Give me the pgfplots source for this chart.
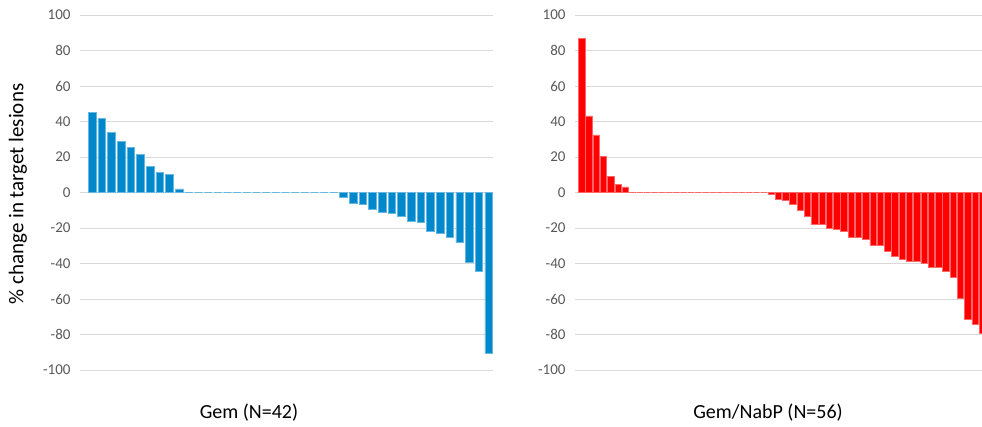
\documentclass[border=0pt]{standalone}
\usepackage{pgfplots}
\pgfplotsset{compat=1.18}
\usepackage{fontspec}
\setmainfont{Carlito}
\definecolor{gemblue}{HTML}{0088CC}
\definecolor{gemred}{HTML}{FF0000}
\definecolor{tickgray}{HTML}{595959}
\definecolor{gridgray}{HTML}{D9D9D9}
\pgfplotsset{
  wf/.style={
    scale only axis,
    anchor=south west,
    ymin=-100, ymax=100,
    ytick={-100,-80,...,100},
    xtick=\empty,
    ymajorgrids,
    grid style={draw=gridgray, line width=0.8pt},
    axis line style={draw=none},
    major tick length=0pt,
    /pgf/number format/assume math mode=true,
    yticklabel style={font=\fontsize{15}{15}\selectfont, text=tickgray, xshift=-6pt},
    clip=true,
  }
}
\begin{document}
\begin{tikzpicture}
\path[use as bounding box] (0pt,0pt) rectangle (982pt,427pt);
\begin{axis}[wf, at={(80pt,57pt)}, width=413pt, height=355pt, xmin=-0.25, xmax=42.45]
\addplot[ybar, bar width=0.79, fill=gemblue, draw=gemblue!60, line width=0.6pt] coordinates {
(1,45.1) (2,41.7) (3,33.8) (4,28.9) (5,25.4) (6,21.6) (7,14.6) (8,11.1) (9,10.1) (10,2.0)
(11,0) (12,0) (13,0) (14,0) (15,0) (16,0) (17,0) (18,0) (19,0) (20,0)
(21,0) (22,0) (23,0) (24,0) (25,0) (26,0)
(27,-2.8) (28,-6.0) (29,-6.8) (30,-9.2) (31,-11.1) (32,-11.8) (33,-13.5) (34,-16.3)
(35,-16.9) (36,-21.6) (37,-23.1) (38,-25.2) (39,-28.2) (40,-39.3) (41,-44.5) (42,-90.5)
};
\end{axis}
\begin{axis}[wf, at={(575pt,57pt)}, width=407pt, height=355pt, xmin=0.08, xmax=55.95]
\addplot[ybar, bar width=0.88, fill=gemred, draw=gemred!60, line width=0.6pt] coordinates {
(1,86.8) (2,43.2) (3,32.5) (4,20.3) (5,9.2) (6,4.5) (7,3.2)
(8,0) (9,0) (10,0) (11,0) (12,0) (13,0) (14,0) (15,0) (16,0) (17,0)
(18,0) (19,0) (20,0) (21,0) (22,0) (23,0) (24,0) (25,0) (26,0)
(27,-1.0) (28,-3.8) (29,-4.5) (30,-6.6) (31,-10.2) (32,-13.5) (33,-17.9) (34,-17.9)
(35,-20.1) (36,-20.7) (37,-22.0) (38,-25.2) (39,-25.2) (40,-26.3) (41,-29.5) (42,-29.7)
(43,-33.3) (44,-36.1) (45,-37.7) (46,-38.5) (47,-38.9) (48,-40.0) (49,-42.3) (50,-42.3)
(51,-44.5) (52,-47.5) (53,-59.4) (54,-71.4) (55,-74.2) (56,-79.4)
};
\end{axis}
\node[rotate=90, font=\fontsize{21}{21}\selectfont] at (18pt,233pt) {\% change in target lesions};
\node[font=\fontsize{20}{20}\selectfont] at (249pt,14pt) {Gem (N=42)};
\node[font=\fontsize{20}{20}\selectfont] at (768pt,14pt) {Gem/NabP (N=56)};
\end{tikzpicture}
\end{document}
